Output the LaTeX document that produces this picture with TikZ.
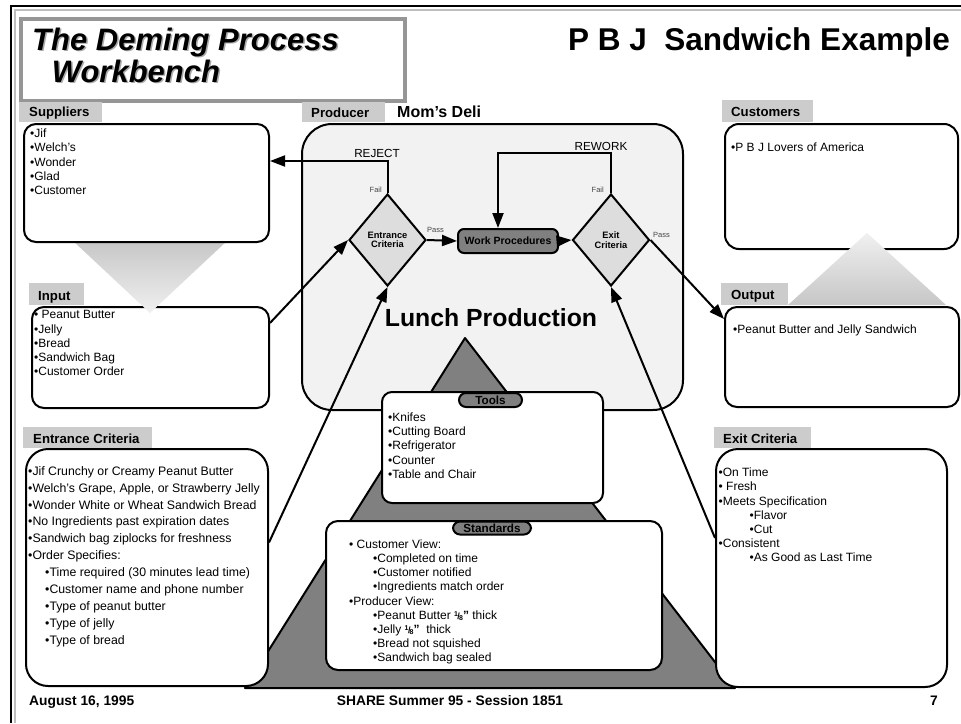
\documentclass[tikz,border=0pt]{standalone}
\usepackage{fontspec}
\usepackage{graphicx}
\setmainfont{Liberation Sans}
\usetikzlibrary{shapes.geometric,arrows.meta}
\definecolor{tabgray}{RGB}{204,204,204}
\definecolor{prodfill}{RGB}{242,242,242}
\definecolor{diafill}{RGB}{221,221,221}
\definecolor{darkfill}{RGB}{128,128,128}
\definecolor{framegray}{RGB}{190,190,190}
\definecolor{titlegray}{RGB}{150,150,150}
\definecolor{shadowgray}{RGB}{170,170,170}
\definecolor{labgray}{RGB}{70,70,70}
\definecolor{gradA}{RGB}{198,198,198}
\definecolor{gradB}{RGB}{240,240,240}
\newcommand\firststrut{\rule{0pt}{10pt}}
\newcommand\eighth{\textbf{\raisebox{3pt}{\fontsize{7}{7}\selectfont 1}\kern-0.6pt{\fontsize{9}{9}\selectfont /}\kern-0.8pt\raisebox{-1pt}{\fontsize{7}{7}\selectfont 8}”}}
\begin{document}
\begin{tikzpicture}[x=1pt,y=-1pt,
  box/.style={draw, line width=2pt, rounded corners=12pt, fill=white, anchor=north west, inner sep=0pt},
  tabbox/.style={fill=tabgray, anchor=north west, inner sep=0pt},
  tablabel/.style={anchor=base west, inner sep=0pt, font=\fontsize{13.2}{15}\selectfont\bfseries},
  items/.style={anchor=north west, inner sep=0pt, align=left, font=\fontsize{12}{14.2}\selectfont},
  arr/.style={line width=2pt, -{Triangle[length=15pt,width=11pt]}},
  dia/.style={diamond, draw, line width=2pt, fill=diafill, inner sep=0pt, minimum width=77pt, minimum height=92pt, align=center, font=\fontsize{9.3}{9.5}\selectfont\bfseries},
  pill/.style={draw, line width=2pt, fill=darkfill, rounded corners=7pt, inner sep=0pt, font=\fontsize{11.7}{13}\selectfont\bfseries},
  small/.style={font=\fontsize{7.5}{8}\selectfont, text=labgray, inner sep=0pt},
  flow/.style={font=\fontsize{11.7}{13}\selectfont, inner sep=0pt},
  titletext/.style={anchor=base west, inner sep=0pt, font=\fontsize{31}{34}\selectfont\bfseries\itshape},
  foot/.style={inner sep=0pt, font=\fontsize{13.8}{15}\selectfont\bfseries},
]
\useasboundingbox (0,0) rectangle (961,723);
\fill[white] (0,0) rectangle (961,723);
% frame
\draw[framegray, line width=2pt] (15,723) -- (15,10) -- (961,10);
\draw[line width=2.5pt] (11,723) -- (11,6) -- (961,6);

% title
\node[draw=titlegray, line width=4pt, fill=white, anchor=north west, minimum width=384pt, minimum height=82pt, inner sep=0pt] (titlebox) at (19,17) {};
\node[titletext, text=shadowgray] (t1s) at (33.5,51.5) {The Deming Process};
\node[titletext] (t1) at (32,50) {The Deming Process};
\node[titletext, text=shadowgray] (t2s) at (44.5,83.5) {\ Workbench};
\node[titletext] (t2) at (43,82) {\ Workbench};
\node[anchor=base east, inner sep=0pt, font=\fontsize{31.5}{34}\selectfont\bfseries] (pbj) at (950,50) {P~B~J~~Sandwich Example};

% tabs (top row)
\node[tabbox, minimum width=83pt, minimum height=20pt] (supTab) at (19,102) {};
\node[tablabel] (supLab) at (29,116.5) {Suppliers};
\node[tabbox, minimum width=83pt, minimum height=20pt] (prodTab) at (302,102) {};
\node[tablabel] (prodLab) at (311,117) {Producer};
\node[anchor=base west, inner sep=0pt, font=\fontsize{16}{18}\selectfont\bfseries] (deli) at (397,117) {Mom’s Deli};
\node[tabbox, minimum width=91pt, minimum height=22pt] (cusTab) at (722,100) {};
\node[tablabel] (cusLab) at (731,116.5) {Customers};

% producer box
\node[draw, line width=2pt, fill=prodfill, rounded corners=30pt, anchor=north west, minimum width=381pt, minimum height=286pt, inner sep=0pt] (prod) at (301,123) {};

% big triangle
\draw[line width=2pt, fill=darkfill, line join=round] (465,338) -- (735,688) -- (245,688) -- cycle;

% input
\node[tabbox, minimum width=55pt, minimum height=22pt] (inpTab) at (29,283) {};
\node[tablabel] (inpLab) at (38,300) {Input};
\node[box, minimum width=237pt, minimum height=101pt] (inp) at (31,306) {};
% supplier gradient triangle
\shade[top color=gradA, bottom color=gradB] (72,240) -- (228,240) -- (150,313) -- cycle;
\node[box, minimum width=245pt, minimum height=118pt] (sup) at (23,123) {};

% customers / output
\node[box, minimum width=233pt, minimum height=125pt, rounded corners=14pt] (cus) at (724,123) {};
\shade[top color=gradB, bottom color=gradA] (867,233) -- (946,305) -- (788,305) -- cycle;
\node[tabbox, minimum width=67pt, minimum height=22pt] (outTab) at (721,283) {};
\node[tablabel] (outLab) at (731,299.5) {Output};
\node[box, minimum width=234pt, minimum height=100pt] (out) at (724,306) {};

% entrance / exit criteria
\node[tabbox, minimum width=129pt, minimum height=21pt] (ecrTab) at (23,427) {};
\node[tablabel] (ecrLab) at (33,443) {Entrance Criteria};
\node[box, minimum width=242pt, minimum height=237pt, rounded corners=22pt] (ecr) at (25,448) {};
\node[tabbox, minimum width=97pt, minimum height=21pt] (xcrTab) at (714,427) {};
\node[tablabel] (xcrLab) at (723,443) {Exit Criteria};
\node[box, minimum width=231pt, minimum height=238pt, rounded corners=22pt] (xcr) at (715,448) {};

% tools / standards
\node[box, minimum width=221pt, minimum height=111pt, rounded corners=10pt] (tools) at (381,391) {};
\node[pill, minimum width=63pt, minimum height=14pt] (toolsLab) at (490.5,400) {Tools};
\node[box, minimum width=336pt, minimum height=149pt, rounded corners=12pt] (std) at (325,520) {};
\node[pill, minimum width=78pt, minimum height=13pt] (stdLab) at (492,528) {Standards};

% item texts
\node[items] (supT) at (30,127.5) {\firststrut•Jif\\•Welch's\\•Wonder\\•Glad\\•Customer};
\node[items, font=\fontsize{12}{14.3}\selectfont] (inpT) at (34,308.5) {\firststrut• Peanut Butter\\•Jelly\\•Bread\\•Sandwich Bag\\•Customer Order};
\node[items, font=\fontsize{12.3}{16.9}\selectfont] (ecrT) at (28,465) {\firststrut•Jif Crunchy or Creamy Peanut Butter\\
•Welch's Grape, Apple, or Strawberry Jelly\\
•Wonder White or Wheat Sandwich Bread\\
•No Ingredients past expiration dates\\
•Sandwich bag ziplocks for freshness\\
•Order Specifies:\\
\hspace*{17pt}•Time required (30 minutes lead time)\\
\hspace*{17pt}•Customer name and phone number\\
\hspace*{17pt}•Type of peanut butter\\
\hspace*{17pt}•Type of jelly\\
\hspace*{17pt}•Type of bread};
\node[items, font=\fontsize{12}{14.3}\selectfont] (toolsT) at (388,411) {\firststrut•Knifes\\•Cutting Board\\•Refrigerator\\•Counter\\•Table and Chair};
\node[items] (stdT) at (349,538) {\firststrut• Customer View:\\
\hspace*{24pt}•Completed on time\\
\hspace*{24pt}•Customer notified\\
\hspace*{24pt}•Ingredients match order\\
•Producer View:\\
\hspace*{24pt}•Peanut Butter \eighth{} thick\\
\hspace*{24pt}•Jelly \eighth{}\ \ thick\\
\hspace*{24pt}•Bread not squished\\
\hspace*{24pt}•Sandwich bag sealed};
\node[items] (xcrT) at (718.5,466.5) {\firststrut•On Time\\
• Fresh\\
•Meets Specification\\
\hspace*{31pt}•Flavor\\
\hspace*{31pt}•Cut\\
•Consistent\\
\hspace*{31pt}•As Good as Last Time};
\node[items] (cusT) at (731,141) {\firststrut•P B J Lovers of America};
\node[items] (outT) at (733,323.5) {\firststrut•Peanut Butter and Jelly Sandwich};

% process
\node[dia] (ent) at (387.5,240) {Entrance\\Criteria};
\node[dia] (exd) at (611,240) {Exit\\Criteria};
\node[pill, fill=darkfill, rounded corners=6pt, minimum width=100pt, minimum height=24pt, font=\fontsize{10.5}{12}\selectfont\bfseries] (wp) at (508,241) {Work Procedures};

\coordinate (rw) at (498,153);
\coordinate (rj) at (387.5,161);
\draw[arr] (ent.east) -- (wp.west);
\draw[arr] (wp.east) -- (exd.west);
\draw[arr] (exd.north) |- (rw) -- (rw |- wp.north);
\draw[arr] (ent.north) -- (rj) -- (rj -| sup.east);
\draw[arr] ([yshift=34.5pt]inp.east) -- (ent.west);
\draw[arr] ([yshift=25pt]ecr.east) -- (ent.south);
\draw[arr] ([yshift=30pt]xcr.west) -- (exd.south);
\draw[arr] (exd.east) -- ([yshift=38pt]out.west);

\node[flow, anchor=base] (rejL) at (377,157) {REJECT};
\node[flow, anchor=base] (rwkL) at (601,150) {REWORK};
\node[small, anchor=base east] (f1) at (382,192) {Fail};
\node[small, anchor=base east] (f2) at (604,192) {Fail};
\node[small, anchor=base west] (p1) at (427,232) {Pass};
\node[small, anchor=base west] (p2) at (653,237) {Pass};

\node[anchor=base, inner sep=0pt, font=\fontsize{24.8}{28}\selectfont\bfseries] (lunch) at (491,326) {Lunch Production};

% footer
\node[foot, anchor=base west] (date) at (29,705) {August 16, 1995};
\node[foot, anchor=base] (session) at (450,705) {SHARE Summer 95 - Session 1851};
\node[foot, anchor=base east] (page) at (938,705) {7};
\end{tikzpicture}
\end{document}
